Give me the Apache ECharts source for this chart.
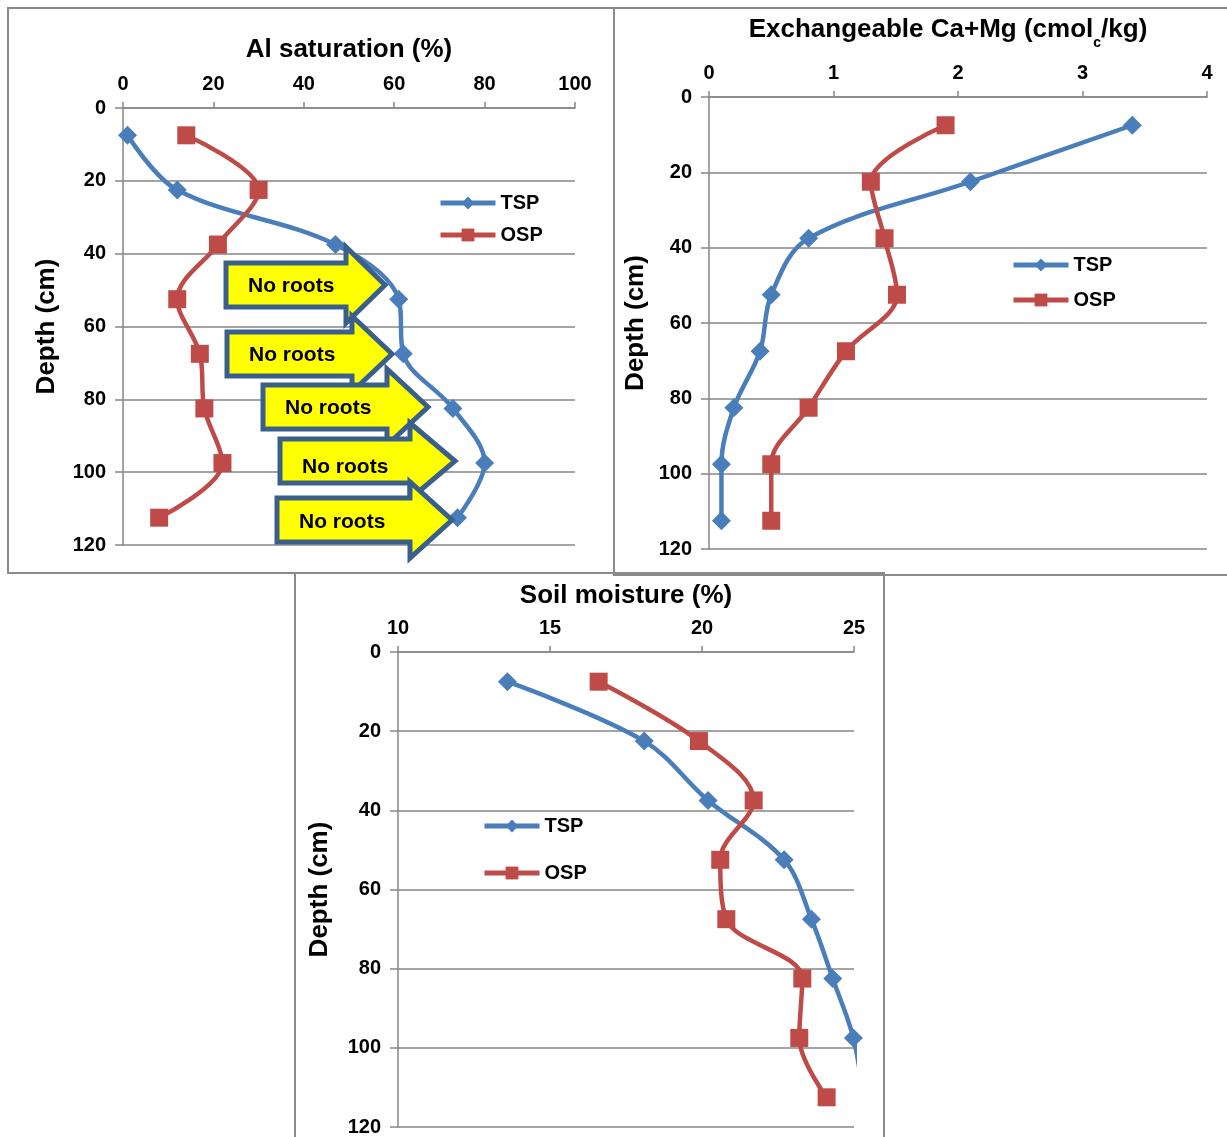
<!DOCTYPE html>
<html>
<head>
<meta charset="utf-8">
<title>Soil profiles under TSP and OSP</title>
<script src="https://cdn.jsdelivr.net/npm/echarts@6/dist/echarts.min.js"></script>
<style>
  html, body { margin: 0; padding: 0; background: #fff; }
  #chart { width: 1227px; height: 1137px; }
</style>
</head>
<body>
<div id="chart"></div>
<script>
// Sampling depths (cm), mid-points of 15 cm layers
const depthCm = [7.5, 22.5, 37.5, 52.5, 67.5, 82.5, 97.5, 112.5];

// Al saturation (%)
const alSatTSP = [1, 12, 47, 61, 62, 73, 80, 74];
const alSatOSP = [14, 30, 21, 12, 17, 18, 22, 8];

// Exchangeable Ca+Mg (cmolc/kg)
const caMgTSP = [3.40, 2.10, 0.80, 0.50, 0.41, 0.20, 0.10, 0.10];
const caMgOSP = [1.90, 1.30, 1.41, 1.51, 1.10, 0.80, 0.50, 0.50];

// Soil moisture (%)
const moistTSP = [13.6, 18.1, 20.2, 22.7, 23.6, 24.3, 24.98, 25.3];
const moistOSP = [16.6, 19.9, 21.7, 20.6, 20.8, 23.3, 23.2, 24.1];

// Axis ranges [min, max, interval]
const alSatAxis = [0, 100, 20];
const caMgAxis = [0, 4, 1];
const moistAxis = [10, 25, 5];
const depthAxis = [0, 120, 20];

const seriesNames = ['TSP', 'OSP'];
const rootLabel = 'No roots';

const FONT = '"Liberation Sans", Arial, Helvetica, sans-serif';
const GRAY = '#868686';
const BLUE = '#4A7EBB';
const RED = '#BE4B48';

const grids = [
  { left: 123, top: 108, width: 452, height: 437 },
  { left: 709, top: 97, width: 498, height: 452 },
  { left: 398, top: 652, width: 456, height: 475 }
];

function valueAxis(gridIndex, range) {
  return {
    type: 'value',
    gridIndex: gridIndex,
    position: 'top',
    min: range[0], max: range[1], interval: range[2],
    axisLine: { show: true, lineStyle: { color: GRAY, width: 1.5 } },
    axisTick: { show: true, length: 6, lineStyle: { color: GRAY, width: 1.5 } },
    axisLabel: { margin: 14, color: '#000', fontSize: 20, fontWeight: 'bold', fontFamily: FONT },
    splitLine: { show: false }
  };
}

function depthYAxis(gridIndex, nameGap) {
  return {
    type: 'value',
    gridIndex: gridIndex,
    inverse: true,
    min: depthAxis[0], max: depthAxis[1], interval: depthAxis[2],
    name: 'Depth (cm)',
    nameLocation: 'middle',
    nameRotate: 90,
    nameGap: nameGap,
    nameTextStyle: { color: '#000', fontSize: 26, fontWeight: 'bold', fontFamily: FONT },
    axisLine: { show: true, lineStyle: { color: GRAY, width: 1.5 } },
    axisTick: { show: true, length: 8, lineStyle: { color: GRAY, width: 1.5 } },
    axisLabel: { margin: 17, color: '#000', fontSize: 20, fontWeight: 'bold', fontFamily: FONT },
    splitLine: { show: true, lineStyle: { color: GRAY, width: 1.5 } }
  };
}

function profile(name, axisIndex, values, color, symbol, size) {
  return {
    name: name,
    type: 'line',
    xAxisIndex: axisIndex,
    yAxisIndex: axisIndex,
    data: values.map((v, i) => [v, depthCm[i]]),
    smooth: 0.35,
    clip: true,
    symbol: symbol,
    symbolSize: size,
    color: color,
    lineStyle: { color: color, width: 4.5 },
    itemStyle: { color: color },
    emphasis: { disabled: true },
    z: 3
  };
}

function tspSeries(axisIndex, values) { return profile(seriesNames[0], axisIndex, values, BLUE, 'diamond', 19); }
function ospSeries(axisIndex, values) { return profile(seriesNames[1], axisIndex, values, RED, 'rect', 18); }

function legendAt(left, top, gap) {
  return {
    data: seriesNames,
    orient: 'vertical',
    left: left, top: top,
    padding: 0,
    itemGap: gap,
    itemWidth: 55,
    itemHeight: 16,
    selectedMode: false,
    lineStyle: { width: 5 },
    textStyle: { color: '#000', fontSize: 20, fontWeight: 'bold', fontFamily: FONT, lineHeight: 20 }
  };
}

const titleStyle = { color: '#000', fontSize: 26, fontWeight: 'bold', fontFamily: FONT };

// Panel frames
const frameStyle = { fill: 'none', stroke: '#8A8A8A', lineWidth: 2 };
const frames = [
  { x: 8, y: 8, width: 606, height: 565 },
  { x: 614, y: 8, width: 640, height: 567 },
  { x: 295, y: 573, width: 589, height: 600 }
].map(r => ({ type: 'rect', shape: r, style: frameStyle, silent: true, z: 1 }));

// Block arrows marking the root-free layers on the Al saturation panel
// [tail x, centre y, head base x, tip x, label y offset]
const rootArrows = [
  [226, 285, 346, 385, 1],
  [227, 354, 352, 392, 1],
  [263, 407, 387, 428, 1],
  [280, 461, 410, 455, 6],
  [277, 520, 410, 452, 2]
];
const arrowGraphics = [];
rootArrows.forEach((a, i) => {
  const [tx, cy, hx, tip, dy] = a;
  const bh = 22, hh = 38;
  arrowGraphics.push({
    type: 'polygon',
    shape: { points: [[tx, cy - bh], [hx, cy - bh], [hx, cy - hh], [tip, cy], [hx, cy + hh], [hx, cy + bh], [tx, cy + bh]] },
    style: { fill: '#FFFF00', stroke: '#3A5F8B', lineWidth: 5, lineJoin: 'miter' },
    silent: true,
    z: 100 + i * 2
  });
  arrowGraphics.push({
    type: 'text',
    x: tx + 22, y: cy + dy,
    style: { text: rootLabel, fill: '#000', font: 'bold 21px ' + FONT, verticalAlign: 'middle', align: 'left' },
    silent: true,
    z: 101 + i * 2
  });
});

const option = {
  backgroundColor: '#fff',
  animation: false,
  title: [
    { text: 'Al saturation (%)', left: 349, top: 37, textAlign: 'center', padding: 0, textStyle: titleStyle },
    {
      text: '{m|Exchangeable Ca+Mg (cmol}{s|c}{m|/kg)}',
      left: 948, top: 10, textAlign: 'center', padding: 0,
      textStyle: {
        rich: {
          m: { color: '#000', fontSize: 26, fontWeight: 'bold', fontFamily: FONT },
          s: { color: '#000', fontSize: 14, fontWeight: 'bold', fontFamily: FONT, padding: [26, 0, 0, 0] }
        }
      }
    },
    { text: 'Soil moisture (%)', left: 626, top: 583, textAlign: 'center', padding: 0, textStyle: titleStyle }
  ],
  legend: [legendAt(438, 193, 12), legendAt(1011, 255, 15), legendAt(482, 816, 27)],
  grid: grids.map(g => Object.assign({ containLabel: false, outerBoundsMode: 'none' }, g)),
  xAxis: [valueAxis(0, alSatAxis), valueAxis(1, caMgAxis), valueAxis(2, moistAxis)],
  yAxis: [depthYAxis(0, 63), depthYAxis(1, 60), depthYAxis(2, 65)],
  series: [
    tspSeries(0, alSatTSP), ospSeries(0, alSatOSP),
    tspSeries(1, caMgTSP), ospSeries(1, caMgOSP),
    tspSeries(2, moistTSP), ospSeries(2, moistOSP)
  ],
  graphic: frames.concat(arrowGraphics)
};

const chart = echarts.init(document.getElementById('chart'), null, { renderer: 'canvas' });
chart.setOption(option);
</script>
</body>
</html>
